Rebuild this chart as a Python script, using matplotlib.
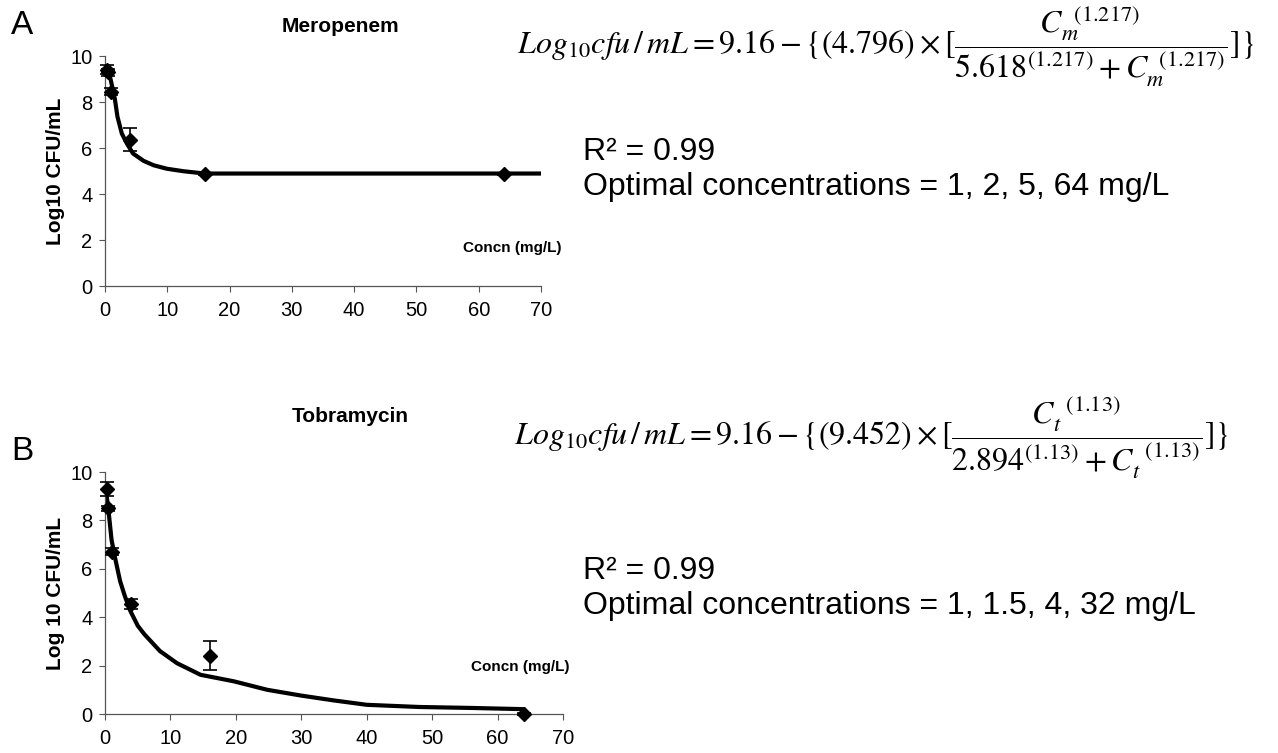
import matplotlib
matplotlib.use('Agg')
import matplotlib.pyplot as plt

plt.rcParams['font.family'] = ['Liberation Sans', 'DejaVu Sans']
plt.rcParams['mathtext.fontset'] = 'stix'

# ---------------- data ----------------
x_ticks = [0, 10, 20, 30, 40, 50, 60, 70]
y_ticks = [0, 2, 4, 6, 8, 10]

# Panel A - Meropenem
mero_conc = [0.25, 0.5, 1, 4, 16, 64]
mero_log = [9.4, 9.3, 8.45, 6.35, 4.86, 4.86]
mero_err = [0.2, 0.15, 0.15, 0.5, 0.05, 0.05]
mero_fit_x = [0.25, 0.5, 0.8, 1.3, 1.6, 2.0, 2.7, 3.5, 4.5, 6.2, 7.8, 9.9, 12.6, 16, 30, 50, 70]
mero_fit_y = [9.35, 9.25, 9.1, 8.5, 8.1, 7.36, 6.63, 6.2, 5.76, 5.44, 5.25, 5.1, 4.99, 4.89, 4.89, 4.89, 4.89]

# Panel B - Tobramycin
tobra_conc = [0.25, 0.5, 1, 4, 16, 64]
tobra_log = [9.3, 8.5, 6.7, 4.55, 2.4, 0.0]
tobra_err = [0.28, 0.1, 0.15, 0.2, 0.6, 0.05]
tobra_fit_x = [0.25, 0.5, 1, 1.5, 2.3, 3, 3.8, 5, 6, 8.4, 11, 14.6, 19.7, 24.8, 30, 35, 40, 48, 56, 64]
tobra_fit_y = [9.0, 8.5, 7.2, 6.5, 5.5, 4.9, 4.3, 3.65, 3.3, 2.6, 2.1, 1.62, 1.35, 1.0, 0.76, 0.56, 0.38, 0.29, 0.25, 0.2]

W, H = 1278, 753
fig = plt.figure(figsize=(W / 100, H / 100), dpi=100)


def fx(px):
    return px / W


def fy(py):
    return 1 - py / H


def style_axes(ax):
    ax.set_xlim(0, 70)
    ax.set_ylim(0, 10)
    ax.set_xticks(x_ticks)
    ax.set_yticks(y_ticks)
    for s in ['top', 'right']:
        ax.spines[s].set_visible(False)
    for s in ['left', 'bottom']:
        ax.spines[s].set_color('#555555')
        ax.spines[s].set_linewidth(0.9)
    ax.tick_params(direction='out', length=4, width=0.8, color='#555555',
                   labelsize=14.5, pad=5)
    ax.tick_params(axis='x', pad=7)


def draw_panel(ax, cx, cy, ce, fx_, fy_, ylabel):
    ax.plot(fx_, fy_, color='black', lw=3.0, solid_capstyle='round', zorder=2)
    ax.errorbar(cx, cy, yerr=ce, fmt='D', color='black', ms=7.5, capsize=5,
                elinewidth=1.2, capthick=1.2, zorder=3, clip_on=False)
    style_axes(ax)
    ax.set_ylabel(ylabel, fontsize=15, fontweight='bold', labelpad=4)


axA = fig.add_axes([fx(105), fy(286), (541 - 105) / W, (286 - 56) / H])
draw_panel(axA, mero_conc, mero_log, mero_err, mero_fit_x, mero_fit_y, 'Log10 CFU/mL')

axB = fig.add_axes([fx(105), fy(714), (563 - 105) / W, (714 - 472) / H])
draw_panel(axB, tobra_conc, tobra_log, tobra_err, tobra_fit_x, tobra_fit_y, 'Log 10 CFU/mL')

# titles / labels
fig.text(fx(340), fy(27), 'Meropenem', fontsize=15, fontweight='bold', ha='center', va='center')
fig.text(fx(350), fy(417), 'Tobramycin', fontsize=15, fontweight='bold', ha='center', va='center')
fig.text(fx(512), fy(248), 'Concn (mg/L)', fontsize=11, fontweight='bold', ha='center', va='center')
fig.text(fx(520), fy(667), 'Concn (mg/L)', fontsize=11, fontweight='bold', ha='center', va='center')
fig.text(fx(22), fy(26), 'A', fontsize=24, ha='center', va='center')
fig.text(fx(22), fy(451), 'B', fontsize=24, ha='center', va='center')

eqA = (r'$Log_{10}cfu\,/\,mL = 9.16 - \{(4.796)\times[\dfrac{C_m^{\;\;(1.217)}}'
       r'{5.618^{(1.217)} + C_m^{\;\;(1.217)}}]\}$')
eqB = (r'$Log_{10}cfu\,/\,mL = 9.16 - \{(9.452)\times[\dfrac{C_t^{\;\;(1.13)}}'
       r'{2.894^{(1.13)} + C_t^{\;\;(1.13)}}]\}$')
fig.text(fx(517), fy(46), eqA, fontsize=23, ha='left', va='center')
fig.text(fx(514), fy(437), eqB, fontsize=23, ha='left', va='center')

fig.text(fx(583), fy(152), 'R² = 0.99', fontsize=23, ha='left', va='center')
fig.text(fx(583), fy(187), 'Optimal concentrations = 1, 2, 5, 64 mg/L', fontsize=23, ha='left', va='center')
fig.text(fx(583), fy(571), 'R² = 0.99', fontsize=23, ha='left', va='center')
fig.text(fx(583), fy(606), 'Optimal concentrations = 1, 1.5, 4, 32 mg/L', fontsize=23, ha='left', va='center')

fig.savefig('out.png', dpi=100)
